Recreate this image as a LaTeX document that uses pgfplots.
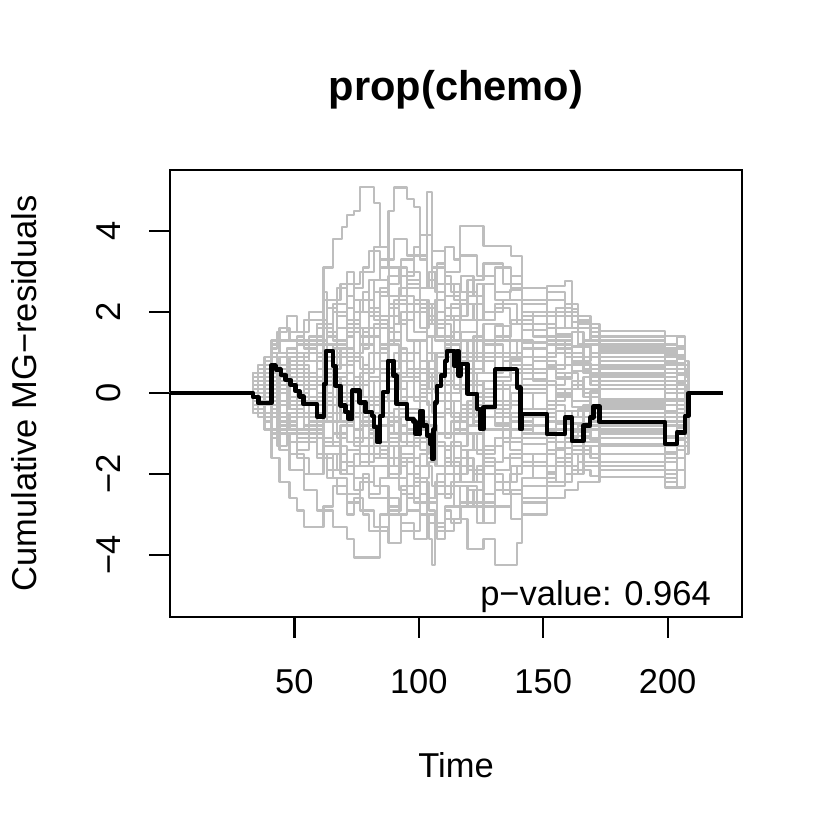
\documentclass[border=0pt]{standalone}
\usepackage{fontspec}
\setmainfont{Liberation Sans}
\usepackage{pgfplots}
\pgfplotsset{compat=1.18}
\definecolor{rgrey}{HTML}{BEBEBE}
\begin{document}
\fontsize{34.5bp}{41.4bp}\selectfont
\begin{tikzpicture}
\useasboundingbox (-170bp,-213bp) rectangle (660bp,617bp);
\begin{axis}[
  at={(0,0)}, anchor=south west, scale only axis,
  width=572bp, height=447bp,
  xmin=0, xmax=229.9, ymin=-5.53, ymax=5.51,
  axis line style={line width=2.2bp},
  xtick={50,100,150,200}, xticklabels={50,100,150,200},
  ytick={-4,-2,0,2,4}, yticklabels={−4,−2,0,2,4},
  tick pos=left,
  tick align=outside, major tick length=20.8bp,
  every tick/.style={black, line width=2.2bp},
  tick label style={font=\fontsize{34.5bp}{41.4bp}\selectfont},
  xticklabel style={anchor=base}, xticklabel shift=55.2bp,
  yticklabel style={rotate=90, anchor=base}, yticklabel shift=28.5bp,
  grey/.style={const plot, rgrey, line width=2.2bp, line join=round},
]
\addplot[grey] coordinates {(0,0)(33.4,0.3)(38,0.6)(40.8,1.0)(44,1.3)(48,1.5)(54,1.2)(59,1.6)(61.7,3.1)(65.5,3.8)(69,4.1)(71,4.4)(74,4.5)(76.5,5.1)(82,4.7)(84.5,3.6)(87.8,3.1)(93,2.4)(98,2.0)(103.3,1.4)(107.3,1.8)(114.3,1.3)(119.6,0.9)(126,1.2)(134,0.8)(141.4,1.1)(151.5,0.7)(161.5,0.9)(166.2,0.5)(172.6,0.6)(199,0.3)(207,0.2)(208.4,0)(222,0)};
\addplot[grey] coordinates {(0,0)(33.4,-0.2)(40.8,0.4)(44,0.9)(51,1.3)(59,1.7)(65.5,2.2)(71,2.7)(76.5,3.0)(82,3.6)(87.8,4.5)(90,5.08)(95.3,4.8)(98,4.6)(100.6,3.3)(103.3,2.6)(107.3,2.0)(110.6,2.4)(116.7,1.8)(123.4,1.3)(130.7,0.9)(139.4,1.3)(146,0.8)(155,0.4)(161.5,0.7)(169,0.2)(172.6,0.4)(199,0.1)(207,-0.2)(208.4,0)(222,0)};
\addplot[grey] coordinates {(0,0)(33.4,0.2)(38,-0.2)(44,0.3)(51,0.8)(59,1.2)(65.5,0.9)(71,1.5)(76.5,2.0)(82,2.5)(87.8,2.9)(93,3.3)(98,3.6)(100.6,3.3)(103.3,4.96)(105.3,3.0)(107.3,2.5)(110.6,2.1)(116.7,2.5)(123.4,1.8)(130.7,2.2)(139.4,1.7)(146,2.0)(155,1.4)(161.5,1.0)(166.2,1.3)(172.6,0.8)(199,1.0)(203.7,0.6)(207,0.3)(208.4,0)(222,0)};
\addplot[grey] coordinates {(0,0)(33.4,0.4)(40.8,0.1)(44,-0.3)(51,0.2)(59,0.6)(65.5,1.1)(71,0.8)(76.5,1.4)(84.5,1.9)(90,2.3)(95.3,2.0)(100.6,2.6)(105.3,3.1)(110.6,3.6)(114.3,3.3)(116.7,4.13)(126,3.64)(137,3.39)(141.4,2.6)(151.5,2.65)(158.8,2.77)(161.5,2.07)(164,1.9)(169,1.7)(172.6,1.54)(199,1.41)(203.7,0.84)(207,0.4)(208.4,0)(222,0)};
\addplot[grey] coordinates {(0,0)(33.4,-0.3)(38,-0.6)(40.8,-1.0)(44,-1.4)(48,-1.9)(54,-2.4)(59,-2.9)(65.5,-3.3)(71,-3.6)(74,-4.06)(84.5,-3.4)(88,-2.9)(93,-2.5)(98,-2.1)(103.3,-2.6)(107.3,-2.0)(114.3,-1.6)(119.6,-1.9)(126,-1.3)(134,-1.6)(141.4,-1.1)(151.5,-1.4)(158.8,-0.9)(166.2,-1.2)(172.6,-0.8)(199,-1.1)(207,-0.5)(208.4,0)(222,0)};
\addplot[grey] coordinates {(0,0)(33.4,-0.1)(40.8,-0.5)(48,-0.9)(54,-0.6)(61.7,-1.2)(68.5,-1.7)(74,-2.1)(80,-2.6)(87.8,-3.0)(93,-3.4)(100.6,-3.0)(104,-3.6)(105.3,-4.25)(106.6,-3.2)(110.6,-2.8)(116.7,-2.3)(123.4,-2.7)(130.7,-2.2)(139.4,-1.8)(146,-2.1)(155,-1.7)(161.5,-2.0)(166.2,-1.5)(172.6,-1.7)(199,-2.0)(203.7,-1.4)(207,-0.9)(208.4,0)(222,0)};
\addplot[grey] coordinates {(0,0)(33.4,0.2)(40.8,-0.2)(44,-0.6)(51,-1.0)(59,-0.7)(65.5,-1.3)(71,-1.8)(80,-1.5)(87.8,-2.1)(95.3,-2.6)(100.6,-3.0)(107.3,-3.4)(114.3,-3.1)(119.6,-3.85)(126,-3.6)(130.7,-4.25)(139.4,-3.7)(141.4,-3.0)(151.5,-2.6)(158.8,-2.4)(164,-2.2)(172.6,-2.08)(199,-2.33)(203.7,-1.6)(207,-1.0)(208.4,0)(222,0)};
\addplot[grey] coordinates {(0,0)(33.4,-0.4)(38,-0.9)(40.8,-1.6)(44,-2.2)(48,-2.6)(51,-2.9)(54,-3.3)(61.7,-2.8)(65.5,-2.3)(71,-2.7)(76.5,-2.2)(82,-1.8)(87.8,-1.3)(93,-1.7)(98,-1.2)(103.3,-0.8)(107.3,-1.3)(114.3,-0.9)(119.6,-0.5)(126,-0.9)(134,-0.6)(141.4,-1.0)(151.5,-0.7)(158.8,-1.1)(164,-0.8)(172.6,-1.0)(199,-0.7)(207,-0.4)(208.4,0)(222,0)};
\addplot[grey] coordinates {(0,0)(33.4,0.5)(38,0.9)(40.8,1.3)(44,1.0)(51,1.4)(54,1.1)(59,1.6)(65.5,2.0)(71,1.7)(76.5,2.3)(82,2.8)(87.8,2.4)(93,2.9)(98,3.4)(103.3,2.8)(107.3,3.2)(110.6,2.7)(116.7,2.2)(123.4,2.7)(130.7,3.1)(137,2.6)(141.4,2.3)(151.5,2.0)(158.8,1.6)(164,1.2)(172.6,1.0)(199,0.7)(207,0.5)(208.4,0)(222,0)};
\addplot[grey] coordinates {(0,0)(33.4,-0.5)(38,-0.2)(40.8,0.3)(44,0.7)(51,0.4)(59,-0.1)(65.5,0.5)(71,1.0)(76.5,0.6)(84.5,1.2)(90,1.7)(95.3,1.3)(100.6,0.8)(105.3,1.4)(110.6,1.9)(116.7,1.5)(123.4,1.0)(130.7,1.4)(137,1.8)(146,1.4)(155,1.1)(161.5,1.5)(166.2,1.2)(172.6,1.3)(199,0.9)(203.7,1.1)(207,0.6)(208.4,0)(222,0)};
\addplot[grey] coordinates {(0,0)(33.4,0.1)(38,0.4)(44,0.0)(48,-0.4)(54,-0.9)(59,-0.5)(65.5,-1.0)(71,-0.6)(76.5,-1.1)(82,-1.6)(87.8,-2.0)(93,-1.5)(98,-2.2)(103.3,-2.7)(107.3,-2.3)(114.3,-2.8)(119.6,-2.4)(126,-2.0)(134,-2.5)(141.4,-2.1)(151.5,-1.8)(158.8,-1.5)(166.2,-1.8)(172.6,-1.5)(199,-1.7)(203.7,-1.3)(207,-0.8)(208.4,0)(222,0)};
\addplot[grey] coordinates {(0,0)(33.4,-0.2)(40.8,0.6)(44,0.9)(51,1.3)(59,0.9)(65.5,0.5)(71,0.9)(76.5,1.4)(82,1.0)(87.8,0.4)(93,0.8)(98,0.3)(103.3,-0.3)(107.3,0.2)(114.3,0.7)(119.6,0.3)(126,-0.2)(134,0.2)(141.4,0.5)(151.5,0.2)(158.8,0.5)(164,0.1)(172.6,0.3)(199,0.0)(203.7,0.2)(207,-0.1)(208.4,0)(222,0)};
\addplot[grey] coordinates {(0,0)(33.4,0.3)(38,0.1)(40.8,-0.4)(44,-0.8)(51,-1.2)(59,-1.6)(65.5,-2.1)(71,-2.5)(76.5,-2.9)(82,-3.3)(87.8,-3.7)(93,-3.2)(98,-3.6)(103.3,-3.0)(107.3,-2.5)(114.3,-2.0)(119.6,-1.4)(126,-1.7)(134,-1.2)(141.4,-1.5)(151.5,-1.2)(158.8,-1.5)(166.2,-1.1)(172.6,-1.3)(199,-1.5)(203.7,-1.0)(207,-0.6)(208.4,0)(222,0)};
\addplot[grey] coordinates {(0,0)(33.4,0.4)(38,0.8)(40.8,1.2)(44,1.6)(48,1.3)(54,1.8)(61.7,2.3)(68.5,2.7)(74,2.3)(80,2.8)(84.5,3.3)(90,3.8)(95.3,3.4)(100.6,3.9)(105.3,3.5)(110.6,3.0)(116.7,3.4)(123.4,2.9)(130.7,2.5)(137,2.9)(141.4,2.6)(151.5,2.3)(158.8,1.9)(164,1.6)(169,1.3)(172.6,1.1)(199,1.2)(203.7,0.9)(207,0.5)(208.4,0)(222,0)};
\addplot[grey] coordinates {(0,0)(33.4,-0.3)(38,0.1)(40.8,-0.3)(48,0.2)(54,-0.2)(61.7,-0.7)(68.5,-0.3)(74,0.2)(80,-0.3)(84.5,-0.8)(90,-0.4)(95.3,-0.9)(100.6,-1.4)(105.3,-1.0)(110.6,-0.5)(116.7,-1.0)(123.4,-1.5)(130.7,-1.1)(137,-0.7)(146,-1.0)(155,-0.7)(161.5,-0.9)(166.2,-0.6)(172.6,-0.4)(199,-0.6)(203.7,-0.3)(207,0.1)(208.4,0)(222,0)};
\addplot[grey] coordinates {(0,0)(33.4,0.2)(38,0.5)(40.8,0.2)(44,0.6)(51,1.0)(59,0.6)(65.5,1.2)(71,1.6)(76.5,1.2)(82,1.7)(87.8,1.3)(93,1.8)(98,2.3)(103.3,1.8)(107.3,1.4)(114.3,1.9)(119.6,2.4)(126,2.0)(134,2.3)(141.4,1.9)(151.5,1.6)(158.8,2.0)(164,1.7)(169,1.4)(172.6,1.2)(199,0.8)(203.7,0.5)(207,0.3)(208.4,0)(222,0)};
\addplot[grey] coordinates {(0,0)(33.4,-0.4)(38,-0.7)(40.8,-1.1)(44,-0.7)(51,-1.1)(59,-1.5)(65.5,-1.9)(71,-1.4)(76.5,-1.8)(82,-2.3)(87.8,-2.8)(93,-2.3)(98,-2.7)(103.3,-3.2)(107.3,-3.6)(110.6,-3.1)(116.7,-2.7)(123.4,-3.2)(130.7,-2.8)(137,-2.4)(141.4,-2.7)(151.5,-2.3)(158.8,-2.0)(164,-1.7)(172.6,-1.9)(199,-2.1)(203.7,-1.6)(207,-1.1)(208.4,0)(222,0)};
\addplot[grey] coordinates {(0,0)(33.4,0.1)(38,-0.3)(44,0.1)(48,0.5)(54,0.1)(59,-0.3)(65.5,0.2)(71,-0.2)(76.5,0.3)(82,-0.2)(87.8,0.4)(93,-0.1)(98,0.5)(103.3,1.0)(107.3,0.5)(114.3,0.1)(119.6,0.6)(126,1.0)(134,0.6)(141.4,0.9)(151.5,0.6)(158.8,0.9)(166.2,0.7)(172.6,0.6)(199,0.4)(203.7,0.7)(207,0.2)(208.4,0)(222,0)};
\addplot[grey] coordinates {(0,0)(33.4,-0.1)(38,-0.5)(40.8,-0.9)(48,-0.5)(54,-0.1)(61.7,0.4)(68.5,0.0)(74,-0.5)(80,-0.1)(84.5,0.5)(90,1.0)(95.3,0.5)(100.6,0.0)(105.3,-0.5)(110.6,-1.0)(116.7,-0.6)(123.4,-0.1)(130.7,-0.5)(137,-0.9)(146,-0.6)(155,-0.9)(161.5,-1.2)(166.2,-0.9)(172.6,-1.1)(199,-0.8)(203.7,-1.1)(207,-0.7)(208.4,0)(222,0)};
\addplot[grey] coordinates {(0,0)(33.4,0.5)(38,0.2)(40.8,0.6)(44,0.2)(51,-0.3)(59,0.2)(65.5,-0.3)(71,0.2)(76.5,-0.3)(82,0.3)(87.8,-0.2)(93,0.4)(98,-0.1)(103.3,0.5)(107.3,1.0)(114.3,0.5)(119.6,1.0)(126,0.5)(134,1.0)(141.4,0.6)(151.5,1.0)(158.8,0.7)(166.2,0.9)(172.6,0.8)(199,0.6)(203.7,0.3)(207,0.6)(208.4,0)(222,0)};
\addplot[grey] coordinates {(0,0)(33.4,-0.2)(38,-0.6)(44,-1.0)(51,-0.6)(59,-1.1)(65.5,-0.7)(71,-1.2)(76.5,-1.7)(82,-1.2)(87.8,-0.7)(93,-1.2)(98,-0.7)(103.3,-1.3)(107.3,-1.8)(114.3,-1.3)(119.6,-0.8)(126,-1.3)(134,-0.9)(141.4,-0.5)(151.5,-0.9)(158.8,-0.6)(164,-0.4)(172.6,-0.3)(199,-0.5)(203.7,-0.2)(207,-0.4)(208.4,0)(222,0)};
\addplot[grey] coordinates {(0,0)(33.4,0.3)(38,0.7)(40.8,0.3)(44,0.7)(51,1.2)(59,1.7)(65.5,1.3)(71,1.8)(76.5,2.3)(82,1.8)(87.8,1.3)(93,0.8)(98,1.3)(103.3,0.8)(107.3,0.3)(114.3,0.8)(119.6,1.3)(126,1.7)(134,1.3)(141.4,1.7)(151.5,1.3)(158.8,1.0)(166.2,0.7)(172.6,0.9)(199,1.1)(203.7,0.7)(207,0.4)(208.4,0)(222,0)};
\addplot[grey] coordinates {(0,0)(33.4,-0.3)(38,0.0)(40.8,0.5)(44,0.1)(48,-0.3)(54,-0.8)(61.7,-1.3)(68.5,-0.8)(74,-1.3)(80,-0.8)(84.5,-1.3)(90,-1.8)(95.3,-2.3)(100.6,-1.8)(105.3,-2.3)(110.6,-1.7)(116.7,-2.2)(123.4,-1.8)(130.7,-2.2)(137,-1.8)(146,-1.5)(155,-1.2)(161.5,-1.5)(166.2,-1.3)(172.6,-1.0)(199,-1.3)(203.7,-0.8)(207,-0.3)(208.4,0)(222,0)};
\addplot[grey] coordinates {(0,0)(33.4,0.2)(38,-0.1)(40.8,-0.5)(44,-0.2)(51,0.3)(59,0.8)(65.5,0.3)(71,-0.2)(76.5,-0.7)(82,-0.2)(87.8,0.3)(93,0.8)(98,1.3)(103.3,1.8)(107.3,2.3)(110.6,1.8)(116.7,1.3)(123.4,0.8)(130.7,0.3)(137,0.7)(146,0.3)(155,0.0)(161.5,0.3)(166.2,0.0)(172.6,0.2)(199,-0.2)(203.7,0.1)(207,0.3)(208.4,0)(222,0)};
\addplot[grey] coordinates {(0,0)(33.4,-0.5)(38,-0.9)(40.8,-0.5)(44,-1.0)(48,-1.5)(54,-2.0)(61.7,-1.5)(68.5,-2.0)(74,-1.5)(80,-1.0)(84.5,-0.5)(90,-1.0)(95.3,-0.5)(100.6,0.0)(105.3,0.5)(110.6,0.0)(116.7,0.5)(123.4,0.0)(130.7,-0.4)(137,0.0)(146,-0.4)(155,-0.1)(161.5,0.2)(166.2,-0.1)(172.6,-0.2)(199,0.1)(203.7,-0.2)(207,0.0)(208.4,0)(222,0)};
\addplot[grey] coordinates {(0,0)(33.4,0.4)(38,0.1)(40.8,0.5)(44,0.9)(51,0.5)(59,0.0)(65.5,-0.5)(71,0.0)(76.5,0.5)(82,1.0)(87.8,1.5)(93,2.0)(98,1.5)(103.3,2.2)(107.3,2.7)(114.3,2.3)(119.6,2.8)(126,3.2)(134,2.7)(141.4,2.3)(151.5,2.5)(158.8,2.2)(164,1.8)(169,1.6)(172.6,1.4)(199,1.2)(203.7,1.4)(207,0.8)(208.4,0)(222,0)};
\addplot[grey] coordinates {(0,0)(33.4,-0.1)(38,0.3)(40.8,0.7)(44,0.3)(51,-0.2)(59,-0.6)(65.5,-0.1)(71,-0.6)(76.5,-0.1)(82,-0.6)(87.8,-1.1)(93,-0.6)(98,-1.1)(103.3,-1.6)(107.3,-1.0)(114.3,-0.5)(119.6,-1.0)(126,-0.6)(134,-0.2)(141.4,0.2)(151.5,-0.2)(158.8,0.1)(166.2,0.4)(172.6,0.1)(199,0.3)(203.7,0.0)(207,-0.3)(208.4,0)(222,0)};
\addplot[grey] coordinates {(0,0)(33.4,0.3)(38,-0.1)(40.8,0.3)(44,-0.2)(51,0.3)(59,-0.2)(65.5,-0.7)(71,-1.2)(76.5,-0.8)(82,-1.3)(87.8,-1.8)(93,-1.3)(98,-1.8)(103.3,-1.3)(107.3,-1.8)(114.3,-2.3)(119.6,-2.8)(126,-3.2)(130.7,-2.8)(137,-3.1)(141.4,-2.6)(151.5,-2.2)(158.8,-1.8)(164,-1.5)(172.6,-1.7)(199,-1.9)(203.7,-2.33)(207,-1.5)(208.4,0)(222,0)};
\addplot[grey] coordinates {(0,0)(33.4,0.1)(38,0.5)(44,0.9)(48,0.5)(54,1.0)(61.7,0.6)(68.5,1.1)(74,1.6)(80,2.1)(84.5,1.6)(90,2.2)(95.3,2.7)(100.6,2.2)(105.3,1.7)(110.6,1.2)(116.7,0.8)(123.4,1.3)(130.7,0.9)(137,0.5)(146,0.9)(155,1.3)(161.5,0.9)(166.2,0.6)(172.6,0.5)(199,0.8)(203.7,0.5)(207,0.2)(208.4,0)(222,0)};
\addplot[grey] coordinates {(0,0)(33.4,-0.2)(38,0.2)(40.8,-0.2)(44,-0.6)(51,-0.2)(59,0.3)(65.5,0.7)(71,0.3)(76.5,-0.2)(82,0.3)(87.8,0.8)(93,0.3)(98,-0.2)(103.3,0.3)(107.3,-0.2)(114.3,-0.7)(119.6,-0.2)(126,0.3)(134,-0.2)(141.4,-0.6)(151.5,-0.3)(158.8,-0.6)(166.2,-0.3)(172.6,-0.6)(199,-0.3)(203.7,-0.6)(207,-0.2)(208.4,0)(222,0)};
\addplot[grey] coordinates {(0,0)(33.4,0.2)(35.5,0.5)(40.8,0.9)(43,0.6)(47,1.1)(51,0.8)(56,1.3)(61.7,1.8)(63,1.4)(67,1.9)(71,2.4)(74,2.0)(77.5,2.5)(80,2.1)(84.5,2.6)(88,2.2)(92,1.7)(95.3,2.2)(100.6,1.6)(104,2.1)(106.6,1.6)(110.6,1.1)(113,1.5)(117,1.0)(122,1.4)(126,0.9)(130.7,1.3)(136.5,0.9)(141.4,1.25)(151.5,0.9)(155,1.2)(161.5,0.8)(169,1.0)(172.6,0.7)(199,0.95)(203.7,0.6)(207,0.4)(208.4,0)(222,0)};
\addplot[grey] coordinates {(0,0)(33.4,-0.3)(35.5,-0.6)(40.8,-0.2)(43,-0.6)(47,-1.0)(51,-1.4)(56,-1.0)(61.7,-1.5)(63,-1.9)(67,-1.5)(71,-2.0)(74,-2.4)(77.5,-2.0)(80,-2.5)(84.5,-2.1)(88,-1.6)(92,-2.1)(95.3,-1.6)(100.6,-2.1)(104,-1.7)(106.6,-1.2)(110.6,-1.6)(113,-1.2)(117,-1.6)(122,-2.0)(126,-1.6)(130.7,-1.9)(136.5,-1.5)(141.4,-1.8)(151.5,-1.5)(155,-1.7)(161.5,-1.4)(169,-1.6)(172.6,-1.8)(199,-1.6)(203.7,-1.9)(207,-1.2)(208.4,0)(222,0)};
\addplot[grey] coordinates {(0,0)(33.4,0.1)(35.5,-0.2)(40.8,0.2)(43,0.5)(47,0.2)(51,-0.2)(56,0.3)(61.7,0.0)(63,0.4)(67,0.9)(71,0.5)(74,0.9)(77.5,0.5)(80,1.0)(84.5,0.6)(88,0.1)(92,0.5)(95.3,1.0)(100.6,0.6)(104,0.1)(106.6,0.5)(110.6,0.9)(113,0.5)(117,0.9)(122,0.5)(126,0.8)(130.7,0.4)(136.5,0.7)(141.4,0.35)(151.5,0.65)(155,0.35)(161.5,0.55)(169,0.3)(172.6,0.45)(199,0.2)(203.7,0.45)(207,0.15)(208.4,0)(222,0)};
\addplot[grey] coordinates {(0,0)(33.4,-0.2)(35.5,0.1)(40.8,-0.3)(43,0.0)(47,-0.4)(51,0.0)(56,-0.5)(61.7,-0.1)(63,-0.5)(67,-0.1)(71,-0.5)(74,-0.9)(77.5,-0.5)(80,-0.9)(84.5,-1.4)(88,-1.0)(92,-0.5)(95.3,-1.0)(100.6,-0.6)(104,-1.0)(106.6,-0.6)(110.6,-0.2)(113,-0.6)(117,-0.3)(122,-0.7)(126,-0.4)(130.7,-0.8)(136.5,-0.5)(141.4,-0.8)(151.5,-0.5)(155,-0.75)(161.5,-0.45)(169,-0.7)(172.6,-0.5)(199,-0.8)(203.7,-0.5)(207,-0.3)(208.4,0)(222,0)};
\addplot[grey] coordinates {(0,0)(33.4,0.4)(35.5,0.7)(40.8,1.1)(43,1.5)(47,1.9)(51,1.5)(56,2.0)(61.7,2.5)(63,2.1)(67,1.6)(71,2.1)(74,1.6)(77.5,1.1)(80,1.6)(84.5,1.1)(88,0.6)(92,1.1)(95.3,0.6)(100.6,0.2)(104,0.6)(106.6,1.0)(110.6,0.6)(113,0.2)(117,0.6)(122,0.2)(126,-0.2)(130.7,0.2)(136.5,-0.2)(141.4,0.1)(151.5,-0.2)(155,0.1)(161.5,-0.2)(169,0.05)(172.6,-0.15)(199,0.1)(203.7,-0.15)(207,0.1)(208.4,0)(222,0)};
\addplot[grey] coordinates {(0,0)(33.4,-0.4)(35.5,-0.1)(40.8,-0.5)(43,-0.9)(47,-0.5)(51,-0.1)(56,0.4)(61.7,0.9)(63,0.5)(67,1.0)(71,1.4)(74,1.0)(77.5,1.5)(80,1.9)(84.5,2.4)(88,1.9)(92,2.4)(95.3,2.8)(100.6,2.3)(104,1.9)(106.6,2.3)(110.6,1.8)(113,2.2)(117,1.8)(122,2.2)(126,1.8)(130.7,2.1)(136.5,1.7)(141.4,2.0)(151.5,1.7)(155,1.9)(161.5,1.6)(169,1.3)(172.6,1.15)(199,0.9)(203.7,1.15)(207,0.7)(208.4,0)(222,0)};
\addplot[grey] coordinates {(0,0)(33.4,0.3)(35.5,0.0)(40.8,-0.4)(43,-0.8)(47,-1.2)(51,-1.6)(56,-2.0)(61.7,-1.6)(63,-2.1)(67,-2.5)(71,-3.0)(74,-2.6)(77.5,-3.0)(80,-3.4)(84.5,-3.0)(88,-2.6)(92,-3.0)(95.3,-2.6)(100.6,-2.2)(104,-2.6)(106.6,-2.2)(110.6,-2.6)(113,-2.2)(117,-1.8)(122,-2.2)(126,-2.5)(130.7,-2.2)(136.5,-2.5)(141.4,-2.3)(151.5,-2.0)(155,-2.2)(161.5,-1.9)(169,-2.05)(172.6,-1.9)(199,-2.2)(203.7,-1.9)(207,-1.3)(208.4,0)(222,0)};
\addplot[grey] coordinates {(0,0)(33.4,0.2)(35.5,0.4)(40.8,0.0)(43,0.4)(47,0.8)(51,1.2)(56,0.8)(61.7,1.3)(63,0.9)(67,0.4)(71,-0.1)(74,0.4)(77.5,-0.1)(80,-0.5)(84.5,-0.1)(88,-0.6)(92,-0.2)(95.3,0.3)(100.6,-0.2)(104,-0.6)(106.6,-0.2)(110.6,0.2)(113,-0.2)(117,0.2)(122,-0.3)(126,0.1)(130.7,-0.3)(136.5,-0.7)(141.4,-0.4)(151.5,-0.7)(155,-0.45)(161.5,-0.75)(169,-0.5)(172.6,-0.25)(199,-0.45)(203.7,-0.2)(207,-0.05)(208.4,0)(222,0)};
\addplot[grey] coordinates {(0,0)(33.4,-0.1)(35.5,0.2)(40.8,0.6)(43,1.0)(47,0.6)(51,1.0)(56,1.4)(61.7,1.0)(63,1.5)(67,1.0)(71,0.5)(74,1.0)(77.5,1.5)(80,2.0)(84.5,1.6)(88,2.1)(92,2.6)(95.3,3.0)(100.6,2.6)(104,3.0)(106.6,2.5)(110.6,2.9)(113,2.5)(117,2.9)(122,2.4)(126,2.7)(130.7,2.3)(136.5,2.55)(141.4,2.2)(151.5,1.9)(155,2.1)(161.5,1.75)(169,1.5)(172.6,1.3)(199,1.05)(203.7,0.75)(207,0.45)(208.4,0)(222,0)};
\addplot[grey] coordinates {(0,0)(33.4,0.1)(35.5,-0.2)(40.8,-0.6)(43,-0.3)(47,-0.7)(51,-1.1)(56,-0.7)(61.7,-0.3)(63,-0.7)(67,-1.1)(71,-0.7)(74,-1.1)(77.5,-0.7)(80,-1.1)(84.5,-1.6)(88,-2.0)(92,-2.4)(95.3,-2.9)(100.6,-2.5)(104,-2.9)(106.6,-3.3)(110.6,-2.9)(113,-3.2)(117,-2.8)(122,-2.4)(126,-2.8)(130.7,-2.4)(136.5,-2.0)(141.4,-1.7)(151.5,-1.95)(155,-1.6)(161.5,-1.3)(169,-1.5)(172.6,-1.25)(199,-1.45)(203.7,-1.15)(207,-0.65)(208.4,0)(222,0)};
\addplot[grey] coordinates {(0,0)(33.4,-0.2)(35.5,-0.5)(40.8,-0.9)(43,-1.3)(47,-0.9)(51,-0.5)(56,-0.9)(61.7,-0.5)(63,-0.1)(67,-0.5)(71,-0.1)(74,0.3)(77.5,-0.1)(80,0.4)(84.5,0.0)(88,0.5)(92,0.1)(95.3,-0.4)(100.6,0.1)(104,0.5)(106.6,0.9)(110.6,1.3)(113,0.9)(117,1.3)(122,0.9)(126,1.3)(130.7,1.65)(136.5,1.3)(141.4,1.55)(151.5,1.2)(155,1.45)(161.5,1.15)(169,0.9)(172.6,1.05)(199,0.75)(203.7,0.95)(207,0.55)(208.4,0)(222,0)};
\addplot[grey] coordinates {(0,0)(33.4,0.3)(35.5,0.6)(40.8,0.2)(43,-0.2)(47,0.2)(51,0.6)(56,0.2)(61.7,-0.3)(63,-0.7)(67,-0.3)(71,-0.7)(74,-1.2)(77.5,-0.8)(80,-1.3)(84.5,-0.8)(88,-1.2)(92,-0.8)(95.3,-1.3)(100.6,-0.9)(104,-1.4)(106.6,-1.8)(110.6,-1.4)(113,-1.8)(117,-1.4)(122,-1.0)(126,-1.4)(130.7,-1.1)(136.5,-1.4)(141.4,-1.25)(151.5,-0.95)(155,-1.2)(161.5,-0.95)(169,-1.15)(172.6,-0.9)(199,-1.05)(203.7,-0.7)(207,-0.45)(208.4,0)(222,0)};
\addplot[grey] coordinates {(0,0)(33.4,-0.3)(35.5,0.0)(40.8,0.4)(43,0.0)(47,0.4)(51,0.9)(56,1.3)(61.7,1.7)(63,2.1)(67,2.6)(71,3.0)(74,2.6)(77.5,3.1)(80,3.5)(84.5,3.1)(88,2.7)(92,3.1)(95.3,2.6)(100.6,2.1)(104,1.7)(106.6,1.3)(110.6,1.7)(113,1.3)(117,0.9)(122,0.5)(126,0.9)(130.7,0.55)(136.5,0.85)(141.4,0.5)(151.5,0.8)(155,0.5)(161.5,0.75)(169,0.45)(172.6,0.65)(199,0.5)(203.7,0.25)(207,0.05)(208.4,0)(222,0)};
\addplot[grey] coordinates {(0,0)(33.4,0.0)(35.5,0.3)(40.8,-0.1)(43,0.3)(47,-0.1)(51,0.3)(56,-0.2)(61.7,0.3)(63,-0.1)(67,0.3)(71,0.7)(74,0.3)(77.5,0.7)(80,0.3)(84.5,0.8)(88,1.2)(92,0.8)(95.3,0.4)(100.6,0.8)(104,0.4)(106.6,0.0)(110.6,-0.4)(113,0.0)(117,-0.4)(122,-0.8)(126,-0.4)(130.7,-0.75)(136.5,-1.1)(141.4,-0.8)(151.5,-1.1)(155,-1.35)(161.5,-1.05)(169,-0.8)(172.6,-0.95)(199,-0.6)(203.7,-0.85)(207,-0.5)(208.4,0)(222,0)};
\addplot[grey] coordinates {(0,0)(33.4,0.2)(35.5,-0.1)(40.8,0.3)(43,0.7)(47,1.1)(51,0.7)(56,0.3)(61.7,0.7)(63,0.3)(67,-0.2)(71,0.3)(74,-0.2)(77.5,-0.6)(80,-1.1)(84.5,-1.6)(88,-1.1)(92,-1.6)(95.3,-2.0)(100.6,-1.5)(104,-1.1)(106.6,-0.6)(110.6,-1.1)(113,-0.7)(117,-0.3)(122,-0.7)(126,-0.3)(130.7,0.1)(136.5,-0.3)(141.4,0.0)(151.5,-0.3)(155,-0.05)(161.5,-0.35)(169,-0.1)(172.6,-0.35)(199,-0.15)(203.7,-0.4)(207,-0.15)(208.4,0)(222,0)};
\addplot[const plot, black, line width=4.4bp, line join=round] coordinates {(0,0)(33.4,-0.1)(35.5,-0.25)(40.8,0.69)(42.5,0.58)(44.5,0.45)(46.5,0.33)(48.5,0.2)(50.5,0.05)(52,-0.08)(53.7,-0.27)(59.1,-0.58)(61.8,0.22)(62.7,1.04)(65.5,0.67)(66.5,0.18)(68.5,-0.31)(70.5,-0.47)(71.8,-0.64)(73.2,0.06)(76.2,-0.23)(78.5,-0.47)(81.2,-0.56)(81.9,-0.84)(83.2,-1.21)(84.5,-0.56)(85.6,0.02)(87.6,0.8)(89.9,0.43)(91,-0.27)(95.3,-0.64)(97.9,-0.7)(98.6,-1.01)(100.6,-0.44)(101.7,-0.8)(103.3,-1.05)(104.6,-1.26)(105.3,-1.63)(105.9,-0.9)(106.6,-0.23)(107.3,0.18)(109,0.43)(110.6,0.8)(111.3,1.04)(114.3,0.67)(115.3,1.04)(116,0.43)(116.7,0.72)(119.6,-0.02)(123.4,-0.4)(124.7,-0.89)(126,-0.35)(130.7,0.59)(139.4,0.14)(140.8,-0.89)(141.4,-0.52)(151.5,-1.01)(158.8,-0.6)(161.5,-1.18)(166.2,-0.8)(168.9,-0.6)(170.2,-0.33)(172.6,-0.72)(199,-1.26)(203.7,-0.97)(207,-0.56)(208.4,0)(222.2,0)};
\end{axis}
\node[anchor=base, font=\bfseries\fontsize{41.6bp}{50bp}\selectfont] at (286bp,516bp) {prop(chemo)};
\node[anchor=base] at (286bp,-160bp) {Time};
\node[anchor=base, rotate=90] at (-133bp,223.5bp) {Cumulative MG−residuals};
\node[anchor=base east, inner sep=0pt] at (541bp,12bp) {p−value: 0.964};
\end{tikzpicture}
\end{document}
